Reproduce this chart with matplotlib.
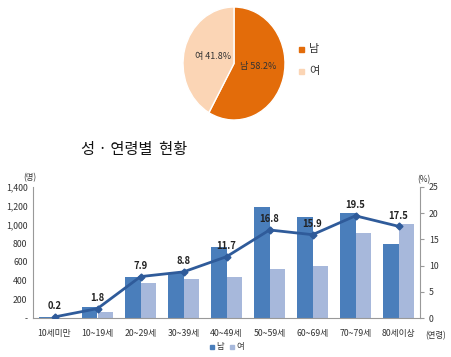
import matplotlib.pyplot as plt
import numpy as np

plt.rcParams['font.family'] = ['Noto Sans CJK KR', 'DejaVu Sans']

# pie data
pie_labels = ["남", "여"]
pie_share = [58.2, 41.8]

# bar / line data
ages = ["10세미만", "10~19세", "20~29세", "30~39세", "40~49세",
        "50~59세", "60~69세", "70~79세", "80세이상"]
male = [8, 120, 440, 486, 759, 1185, 1082, 1117, 787]
female = [2, 60, 372, 422, 433, 529, 553, 905, 1004]
ratio = [0.2, 1.8, 7.9, 8.8, 11.7, 16.8, 15.9, 19.5, 17.5]

W, H = 452, 357
fig = plt.figure(figsize=(W / 100, H / 100), dpi=100)


def box(x0, y0, x1, y1):
    # pixel box (top-left origin) -> figure fraction
    return [x0 / W, 1 - y1 / H, (x1 - x0) / W, (y1 - y0) / H]


# ---- pie ----
pie_colors = ["#E36C0A", "#FBD5B5"]
ax_p = fig.add_axes(box(183, 7, 285, 120))
ax_p.pie(pie_share, colors=pie_colors, startangle=90, counterclock=False,
         wedgeprops=dict(edgecolor="white", linewidth=1))
ax_p.set_aspect("auto")
ax_p.set_xlim(-1, 1)
ax_p.set_ylim(-1, 1)
ax_p.axis("off")
ax_p.text(0.47, -0.06, f"{pie_labels[0]} {pie_share[0]}%", ha="center", va="center",
          fontsize=6.5, color="#333333")
ax_p.text(-0.41, 0.12, f"{pie_labels[1]} {pie_share[1]}%", ha="center", va="center",
          fontsize=6.5, color="#333333")

for i, (lab, c) in enumerate(zip(pie_labels, pie_colors)):
    y = 49 + i * 22
    fig.patches.append(plt.Rectangle(((299) / W, 1 - (y + 3) / H), 5 / W, 5 / H,
                                     color=c, transform=fig.transFigure))
    fig.text(309 / W, 1 - y / H, lab, fontsize=8, va="center", color="#333333")

# ---- title ----
fig.text(81 / W, 1 - 149 / H, "성 · 연령별  현황", fontsize=11, va="center",
         color="#111111")

# ---- bars ----
c_m = "#4A7EBB"
c_f = "#A7B8DB"
ax = fig.add_axes(box(33, 187, 420, 318))
x = np.arange(len(ages))
w = 0.35
ax.bar(x - w / 2, male, w, color=c_m, label="남")
ax.bar(x + w / 2, female, w, color=c_f, label="여")
ax.set_xlim(-0.5, len(ages) - 0.5)
ax.set_ylim(0, 1400)
ax.set_yticks(range(0, 1401, 200))
ax.set_yticklabels(["-"] + [f"{v:,}" for v in range(200, 1401, 200)])
ax.set_xticks(x)
ax.set_xticklabels(ages)
ax.tick_params(axis="both", labelsize=6.3, colors="#333333", length=0, pad=8)
ax.tick_params(axis="y", pad=4)
for s in ["top", "right"]:
    ax.spines[s].set_visible(False)
ax.spines["left"].set_color("#999999")
ax.spines["bottom"].set_color("#999999")

ax2 = ax.twinx()
ax2.plot(x, ratio, color="#2F5B9A", linewidth=2, marker="D", markersize=3.5)
ax2.set_ylim(0, 25)
ax2.set_yticks(range(0, 26, 5))
ax2.tick_params(axis="y", labelsize=6.3, colors="#333333", length=3, direction="out")
ax2.tick_params(axis="y", color="#999999")
for s in ["top", "left", "bottom"]:
    ax2.spines[s].set_visible(False)
ax2.spines["right"].set_color("#999999")
for xi, v in zip(x, ratio):
    ax2.annotate(f"{v}", (xi, v), textcoords="offset points", xytext=(0, 4),
                 ha="center", va="bottom", fontsize=6.8, fontweight="bold",
                 color="#222222")

fig.text(30 / W, 1 - 178 / H, "(명)", fontsize=6, ha="center", va="center", color="#333333")
fig.text(424 / W, 1 - 180 / H, "(%)", fontsize=6, ha="center", va="center", color="#333333")
fig.text(436 / W, 1 - 336 / H, "(연령)", fontsize=6, ha="center", va="center", color="#333333")

# legend below
for i, (lab, c) in enumerate([("남", c_m), ("여", c_f)]):
    x0 = 210 + i * 20
    fig.patches.append(plt.Rectangle((x0 / W, 1 - 349 / H), 4 / W, 4 / H,
                                     color=c, transform=fig.transFigure))
    fig.text((x0 + 6) / W, 1 - 347 / H, lab, fontsize=6, va="center", color="#333333")

fig.savefig("out.png", dpi=100)
